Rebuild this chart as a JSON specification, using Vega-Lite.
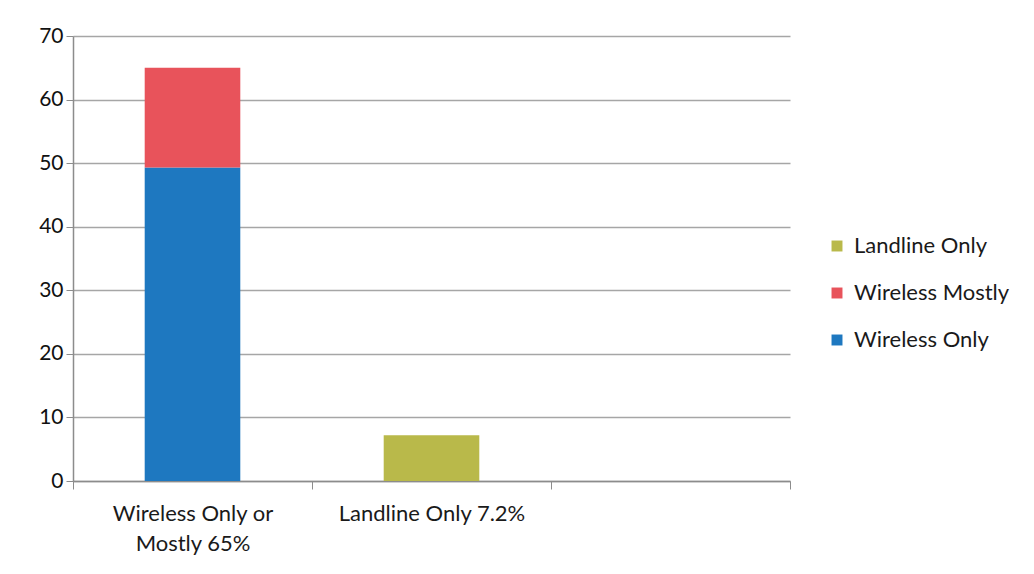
{
  "$schema": "https://vega.github.io/schema/vega-lite/v6.json",
  "width": 717,
  "height": 445,
  "autosize": {"type": "none"},
  "padding": {"left": 73, "top": 36, "right": 244, "bottom": 93},
  "background": "white",
  "data": {
    "values": [
      {"group": "Wireless Only or Mostly 65%", "type": "Wireless Only", "order": 1, "pct": 49.3},
      {"group": "Wireless Only or Mostly 65%", "type": "Wireless Mostly", "order": 2, "pct": 15.7},
      {"group": "Landline Only 7.2%", "type": "Landline Only", "order": 3, "pct": 7.2}
    ]
  },
  "mark": {"type": "bar", "width": {"band": 0.4}, "stroke": null},
  "encoding": {
    "x": {
      "field": "group",
      "type": "nominal",
      "sort": null,
      "scale": {"domain": ["Wireless Only or Mostly 65%", "Landline Only 7.2%", " "], "paddingInner": 0, "paddingOuter": 0},
      "axis": {
        "title": null,
        "labelAngle": 0,
        "labelExpr": "datum.value == 'Wireless Only or Mostly 65%' ? ['Wireless Only or', 'Mostly 65%'] : datum.value",
        "labelFont": "Lato",
        "labelFontSize": 22,
        "labelColor": "#1a1a1a",
        "labelLimit": 400,
        "labelPadding": 14,
        "labelLineHeight": 30,
        "tickBand": "extent",
        "tickSize": 8,
        "tickColor": "#8c8c8c",
        "domainColor": "#8c8c8c",
        "domainWidth": 1.5,
        "grid": false
      }
    },
    "y": {
      "field": "pct",
      "type": "quantitative",
      "stack": "zero",
      "scale": {"domain": [0, 70], "nice": false},
      "axis": {
        "title": null,
        "values": [0, 10, 20, 30, 40, 50, 60, 70],
        "labelFont": "Lato",
        "labelFontSize": 21,
        "labelColor": "#111111",
        "labelPadding": 3,
        "tickSize": 7,
        "tickColor": "#8c8c8c",
        "domainColor": "#8c8c8c",
        "domainWidth": 1.5,
        "gridColor": "#a6a6a6",
        "gridWidth": 1.5
      }
    },
    "color": {
      "field": "type",
      "type": "nominal",
      "scale": {
        "domain": ["Landline Only", "Wireless Mostly", "Wireless Only"],
        "range": ["#b9b94a", "#e8535b", "#1e78c0"]
      },
      "legend": {
        "title": null,
        "orient": "none",
        "legendX": 753,
        "legendY": 199,
        "symbolType": "square",
        "symbolSize": 120,
        "symbolStrokeWidth": 0,
        "labelFont": "Lato",
        "labelFontSize": 22,
        "labelColor": "#1a1a1a",
        "labelLimit": 300,
        "rowPadding": 25,
        "labelOffset": 6
      }
    },
    "order": {"field": "order", "type": "quantitative"}
  },
  "config": {"view": {"stroke": null}}
}
